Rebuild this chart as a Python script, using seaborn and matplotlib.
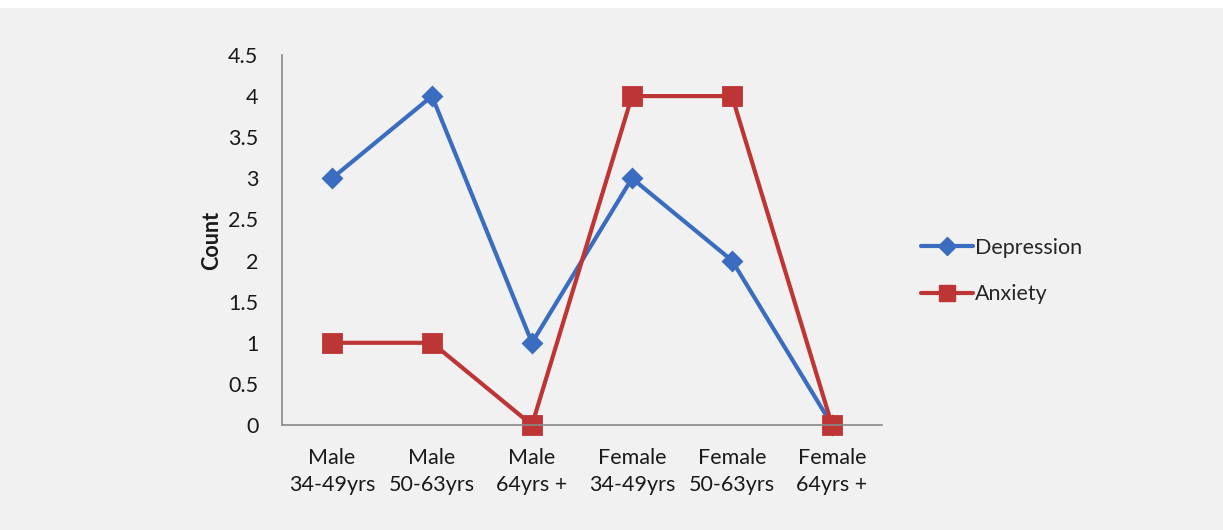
import matplotlib
matplotlib.use("Agg")
import matplotlib.pyplot as plt
from matplotlib.patches import Rectangle
from matplotlib.lines import Line2D
import seaborn as sns
import pandas as pd

groups = ["Male\n34-49yrs", "Male\n50-63yrs", "Male\n64yrs +",
          "Female\n34-49yrs", "Female\n50-63yrs", "Female\n64yrs +"]
depression = [3, 4, 1, 3, 2, 0]
anxiety = [1, 1, 0, 4, 4, 0]
series_names = ["Depression", "Anxiety"]
y_ticks = [0, 0.5, 1, 1.5, 2, 2.5, 3, 3.5, 4, 4.5]
y_tick_labels = ["0", "0.5", "1", "1.5", "2", "2.5", "3", "3.5", "4", "4.5"]

BG = "#f0f1f0"
BLUE = "#3a6dbf"
RED = "#bd3535"
FS = 15.5

sns.set_theme(style="white")
plt.rcParams["font.family"] = ["Lato", "DejaVu Sans"]

df = pd.DataFrame({
    "group": groups * 2,
    "count": depression + anxiety,
    "series": [series_names[0]] * len(groups) + [series_names[1]] * len(groups),
})

fig = plt.figure(figsize=(12.23, 5.30), dpi=100, facecolor=BG)
fig.patches.append(Rectangle((0, 1 - 8 / 530), 1, 8 / 530, transform=fig.transFigure,
                             facecolor="white", edgecolor="none", zorder=-1))
ax = fig.add_axes([282 / 1223, 105 / 530, 600 / 1223, 370 / 530])
ax.set_facecolor(BG)

sns.pointplot(data=df, x="group", y="count", hue="series", order=groups,
              hue_order=series_names, palette=[BLUE, RED], markers=["D", "s"],
              linestyles=["-", "-"], errorbar=None, ax=ax, legend=False)
for ln in ax.lines:
    ln.set_linewidth(3.0)
    ln.set_clip_on(False)
    if ln.get_marker() == "s":
        ln.set_markersize(13)
    else:
        ln.set_markersize(9.5)
for coll in ax.collections:
    coll.set_clip_on(False)
    coll.set_linewidth(0)

ax.set_xlim(-0.5, len(groups) - 0.5)
ax.set_ylim(0, 4.5)
ax.set_yticks(y_ticks)
ax.set_yticklabels(y_tick_labels)
ax.tick_params(axis="both", length=0, labelsize=FS, colors="#1a1a1a")
ax.tick_params(axis="y", pad=17)
ax.tick_params(axis="x", pad=16.5)
for lbl in ax.get_xticklabels():
    lbl.set_linespacing(1.45)
ax.set_xlabel("")
ax.set_ylabel("Count", fontsize=FS, fontweight="bold", color="#1a1a1a", labelpad=4)

for side in ["top", "right"]:
    ax.spines[side].set_visible(False)
for side in ["left", "bottom"]:
    ax.spines[side].set_color("#888888")
    ax.spines[side].set_linewidth(1.2)

handles = [Line2D([], [], color=BLUE, lw=3, marker="D", markersize=9),
           Line2D([], [], color=RED, lw=3, marker="s", markersize=12)]
fig.legend(handles, series_names, loc="center left",
           bbox_to_anchor=(902 / 1223, 1 - 271 / 530), frameon=False,
           fontsize=FS, handlelength=2.4, handletextpad=0.1, labelspacing=1.25)

fig.savefig("out.png", dpi=100, facecolor=BG)
